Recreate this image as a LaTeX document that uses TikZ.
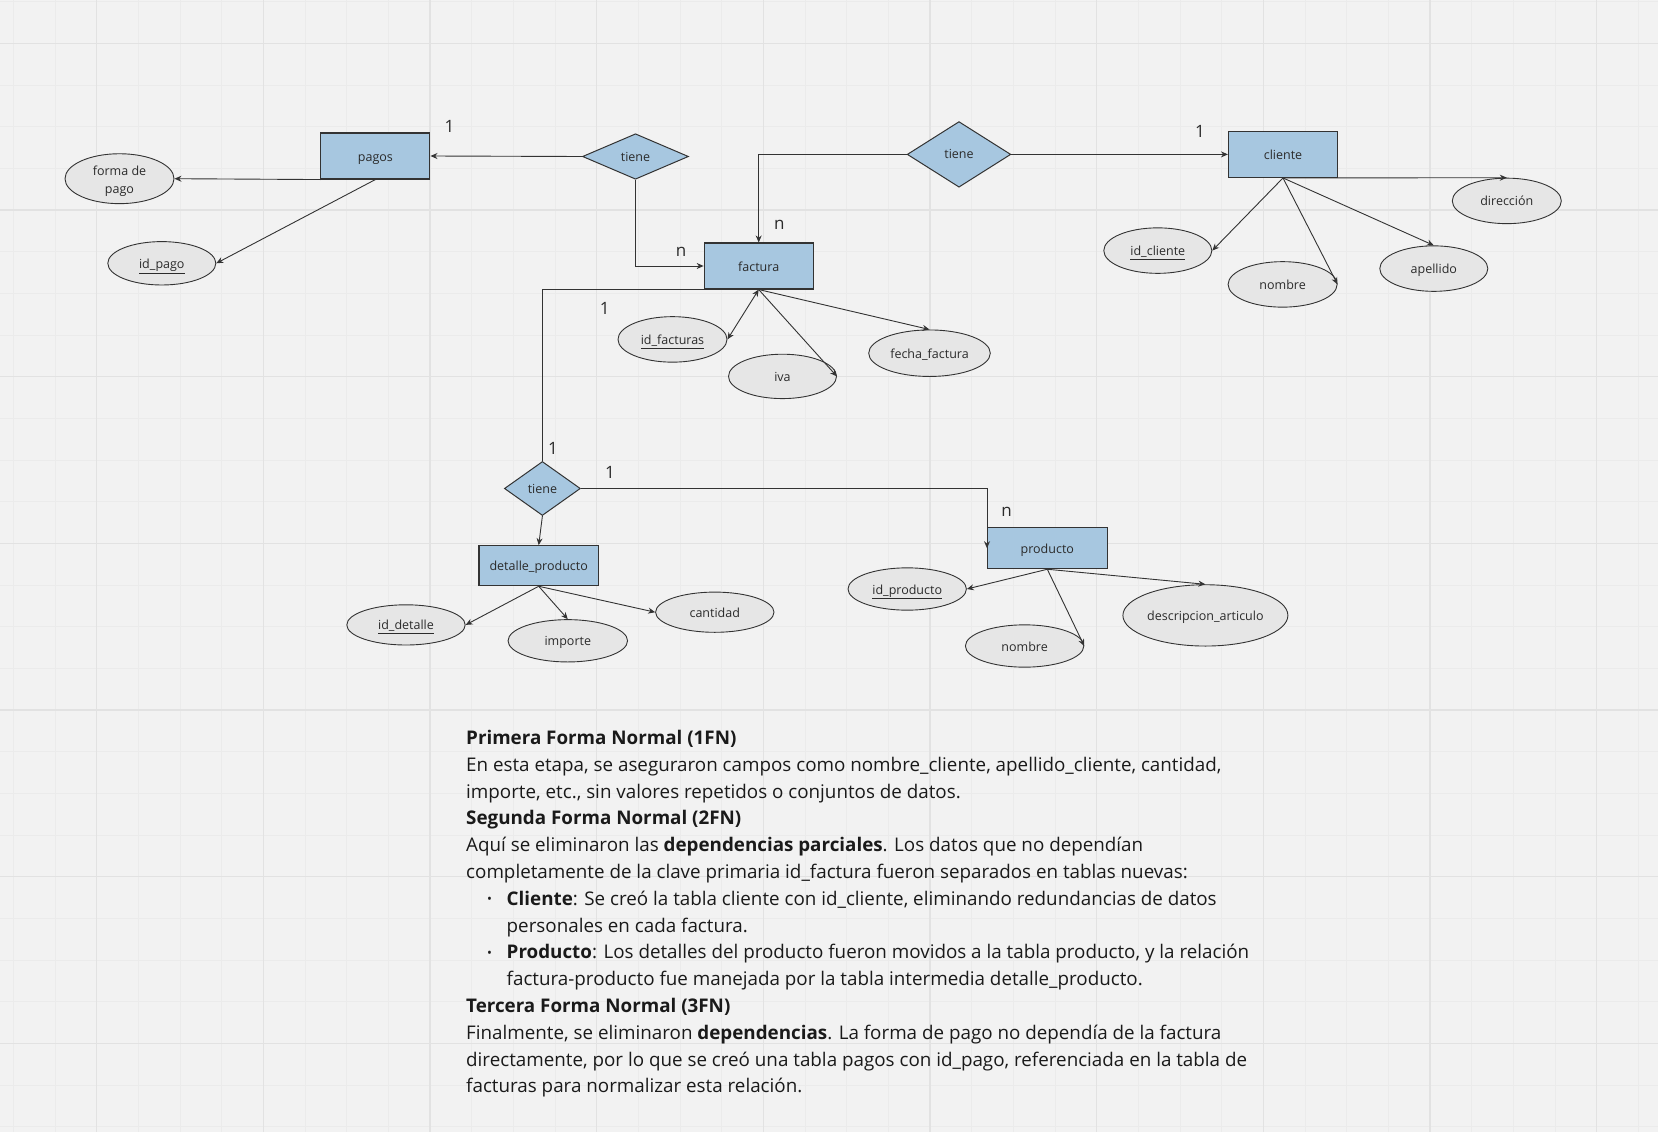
\documentclass[tikz,border=0pt]{standalone}
\usepackage{fontspec}
\setmainfont{Open Sans}
\usetikzlibrary{shapes.geometric,arrows.meta}

\definecolor{boardbg}{HTML}{F2F2F2}
\definecolor{gridminor}{HTML}{EBEBEB}
\definecolor{gridmajor}{HTML}{E2E2E2}
\definecolor{tableblue}{HTML}{A7C7E0}
\definecolor{attrgray}{HTML}{E6E6E6}
\definecolor{linegray}{HTML}{333333}
\definecolor{inkgray}{HTML}{2B2B2B}
\definecolor{inkblack}{HTML}{1A1A1A}

\begin{document}
\begin{tikzpicture}[x=1pt, y=-1pt,
	entity/.style={draw=linegray, fill=tableblue, line width=1.1pt, minimum width=109pt, minimum height=46pt, inner sep=0pt, font=\fontsize{12.5}{15}\selectfont, text=inkgray, text height=11.5pt, text depth=1.5pt},
	rel/.style={diamond, draw=linegray, fill=tableblue, line width=1pt, inner sep=0pt, font=\fontsize{12.5}{15}\selectfont, text=inkgray},
	attr/.style={ellipse, draw=linegray, fill=attrgray, line width=0.9pt, inner sep=0pt, minimum width=109pt, minimum height=45pt, font=\fontsize{12.5}{17.5}\selectfont, text=inkgray, align=center},
	oneline/.style={text height=11.5pt, text depth=1.5pt},
	card/.style={font=\fontsize{17}{17}\selectfont, text=inkgray},
	link/.style={draw=linegray, line width=0.9pt},
	>={Stealth[length=7pt,width=6pt]}]
	\useasboundingbox (0,0) rectangle (1658,1132);
	\fill [boardbg] (0,0) rectangle (1658,1132);
	% grid of the board
	\foreach \k in {0,...,39}
		\draw [gridminor, line width=0.8pt] ({13.33+41.667*\k},0) -- ++(0,1132);
	\foreach \k in {0,...,27}
		\draw [gridminor, line width=0.8pt] (0,{1.67+41.667*\k}) -- ++(1658,0);
	\foreach \k in {0,...,9}
		\draw [gridmajor, line width=1.2pt] ({96.67+166.67*\k},0) -- ++(0,1132);
	\foreach \k in {0,...,6}
		\draw [gridmajor, line width=1.2pt] (0,{43.33+166.67*\k}) -- ++(1658,0);

	% tables and relations
	\node [entity] (pagos) at (375.4,156) {pagos};
	\node [entity] (factura) at (758.7,266) {factura};
	\node [entity] (cliente) at (1283,154.4) {cliente};
	\node [entity, minimum width=119.5pt, minimum height=40pt] (detalle) at (538.7,565.7) {detalle\_producto};
	\node [entity, minimum width=119.5pt, minimum height=41pt] (producto) at (1047.3,548.2) {producto};
	\node [rel, minimum width=106pt, minimum height=45.5pt] (relPagos) at (635.5,156.5) {tiene};
	\node [rel, minimum width=103.6pt, minimum height=65.6pt] (relCliente) at (959,154.4) {tiene};
	\node [rel, minimum width=76pt, minimum height=54pt] (relDetalle) at (542.4,488.5) {tiene};

	% attributes
	\node [attr, minimum height=44.4pt, text height=32pt, text depth=3.3pt] (formaPago) at (119.5,178.7) {forma de\\pago};
	\node [attr, oneline, minimum width=108pt, minimum height=43.4pt] (idPago) at (161.8,263.3) {\underline{id\_pago}};
	\node [attr, oneline, minimum height=45.5pt] (idFacturas) at (672.5,339.4) {\underline{id\_facturas}};
	\node [attr, oneline, minimum width=108pt, minimum height=44.4pt] (iva) at (782.5,376.4) {iva};
	\node [attr, oneline, minimum width=121.6pt, minimum height=46.5pt] (fechaFactura) at (929.5,353.2) {fecha\_factura};
	\node [attr, oneline, minimum width=108pt, minimum height=45.5pt] (idCliente) at (1157.8,250.6) {\underline{id\_cliente}};
	\node [attr, oneline, minimum height=45.5pt] (nombreCliente) at (1282.6,284.4) {nombre};
	\node [attr, oneline, minimum width=108pt, minimum height=45.5pt] (apellido) at (1433.8,268.6) {apellido};
	\node [attr, oneline, minimum height=45.5pt] (direccion) at (1506.8,200.9) {dirección};
	\node [attr, oneline, minimum width=118.4pt, minimum height=40.2pt] (idDetalle) at (406,624.9) {\underline{id\_detalle}};
	\node [attr, oneline, minimum width=119.5pt, minimum height=42.3pt] (importe) at (567.8,640.8) {importe};
	\node [attr, oneline, minimum width=118.4pt, minimum height=40.2pt] (cantidad) at (714.8,612.2) {cantidad};
	\node [attr, oneline, minimum width=118.4pt, minimum height=42.3pt] (idProducto) at (907.2,589) {\underline{id\_producto}};
	\node [attr, oneline, minimum width=118.4pt, minimum height=42.3pt] (nombreProducto) at (1024.6,646) {nombre};
	\node [attr, oneline, minimum width=165pt, minimum height=61.3pt] (descripcion) at (1205.4,615.4) {descripcion\_articulo};

	% relations between tables
	\draw [link, ->] (relPagos.west) -- (pagos.east);
	\draw [link, ->] (relPagos.south) |- (factura.west);
	\draw [link, ->] (relCliente.west) -| (factura.north);
	\draw [link, ->] (relCliente.east) -- (cliente.west);
	\draw [link] (factura.south west) -| (relDetalle.north);
	\draw [link, ->] (relDetalle.south) -- (detalle.north);
	\draw [link, ->] (relDetalle.east) -| (producto.west);

	% attribute links
	\draw [link, ->] (pagos.south west) -- (formaPago.east);
	\draw [link, ->] (pagos.south) -- (idPago.east);
	\draw [link, <->] (factura.south) -- (idFacturas.east);
	\draw [link, ->] (factura.south) -- (iva.east);
	\draw [link, ->] (factura.south) -- (fechaFactura.north);
	\draw [link, ->] (cliente.south) -- (idCliente.east);
	\draw [link, ->] (cliente.south) -- (nombreCliente.east);
	\draw [link, ->] (cliente.south) -- (apellido.north);
	\draw [link, ->] (cliente.south) -- (direccion.north);
	\draw [link, ->] (detalle.south) -- (idDetalle.east);
	\draw [link, ->] (detalle.south) -- (importe.north);
	\draw [link, ->] (detalle.south) -- (cantidad.west);
	\draw [link, ->] (producto.south) -- (idProducto.east);
	\draw [link, ->] (producto.south) -- (nombreProducto.east);
	\draw [link, ->] (producto.south) -- (descripcion.north);

	% cardinalities
	\node [card] (cPagos) at (449.4,126.9) {1};
	\node [card] (cFacturaA) at (681,251.7) {n};
	\node [card] (cFacturaB) at (779.3,225.2) {n};
	\node [card] (cCliente) at (1200,131.1) {1};
	\node [card] (cFacturaC) at (604.8,308.8) {1};
	\node [card] (cDetalleA) at (553,448.3) {1};
	\node [card] (cDetalleB) at (610.1,472.7) {1};
	\node [card] (cProducto) at (1006.6,511.8) {n};

	% notes on normal forms
	\node [anchor=north west, align=left, inner sep=0pt, text=inkblack,
		font=\fontsize{18.8}{26.8}\selectfont] (notes) at (466,730) {%
		\textbf{Primera Forma Normal (1FN)}\\
		En esta etapa, se aseguraron campos como nombre\_cliente, apellido\_cliente, cantidad,\\
		importe, etc., sin valores repetidos o conjuntos de datos.\\
		\textbf{Segunda Forma Normal (2FN)}\\
		Aquí se eliminaron las \textbf{dependencias parciales}. Los datos que no dependían\\
		completamente de la clave primaria id\_factura fueron separados en tablas nuevas:\\
		\hspace*{21pt}\makebox[19.5pt][l]{\raisebox{1.5pt}{\fontsize{13}{13}\selectfont\textbullet}}\textbf{Cliente}: Se creó la tabla cliente con id\_cliente, eliminando redundancias de datos\\
		\hspace*{40.5pt}personales en cada factura.\\
		\hspace*{21pt}\makebox[19.5pt][l]{\raisebox{1.5pt}{\fontsize{13}{13}\selectfont\textbullet}}\textbf{Producto}: Los detalles del producto fueron movidos a la tabla producto, y la relación\\
		\hspace*{40.5pt}factura-producto fue manejada por la tabla intermedia detalle\_producto.\\
		\textbf{Tercera Forma Normal (3FN)}\\
		Finalmente, se eliminaron \textbf{dependencias}. La forma de pago no dependía de la factura\\
		directamente, por lo que se creó una tabla pagos con id\_pago, referenciada en la tabla de\\
		facturas para normalizar esta relación.};
\end{tikzpicture}
\end{document}
